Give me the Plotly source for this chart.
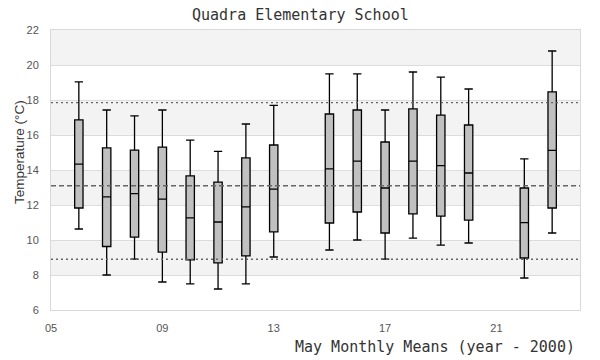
import plotly.graph_objects as go

# Years (year - 2000)
years = [6, 7, 8, 9, 10, 11, 12, 13, 15, 16, 17, 18, 19, 20, 22, 23]
upper_whisker = [19.03, 17.43, 17.09, 17.43, 15.71, 15.06, 16.63, 17.69, 19.49, 19.49, 17.43, 19.60, 19.31, 18.63, 14.63, 20.80]
q3_vals       = [16.86, 15.26, 15.14, 15.31, 13.66, 13.31, 14.69, 15.43, 17.20, 17.43, 15.60, 17.49, 17.14, 16.57, 12.97, 18.46]
medians       = [14.34, 12.46, 12.65, 12.34, 11.26, 11.03, 11.89, 12.91, 14.06, 14.51, 12.97, 14.51, 14.25, 13.83, 10.99, 15.12]
q1_vals       = [11.83,  9.63, 10.17,  9.31,  8.86,  8.69,  9.09, 10.46, 10.97, 11.60, 10.40, 11.49, 11.37, 11.14,  8.97, 11.83]
lower_whisker = [10.63,  8.00,  8.91,  7.60,  7.49,  7.20,  7.49,  9.03,  9.43, 10.00,  8.91, 10.11,  9.71,  9.83,  7.83, 10.40]

tick_vals = [5, 9, 13, 17, 21]
tick_text = ["05", "09", "13", "17", "21"]

ref_mean = 13.1
ref_upper = 17.85
ref_lower = 8.9

fig = go.Figure()
fig.add_trace(go.Box(
    x=years, q1=q1_vals, median=medians, q3=q3_vals,
    lowerfence=lower_whisker, upperfence=upper_whisker,
    fillcolor="#c0c0c0", line=dict(color="black", width=1.3),
    width=0.3, whiskerwidth=1, boxpoints=False, showlegend=False,
    hoverinfo="skip"))

shapes = []
# alternating bands
for lo in [8, 12, 16, 20]:
    shapes.append(dict(type="rect", xref="paper", yref="y", x0=0, x1=1, y0=lo, y1=lo + 2,
                       fillcolor="#f3f3f3", line=dict(width=0), layer="below"))
for val, dash in [(ref_upper, "2px,3px"), (ref_mean, "5px,3px"), (ref_lower, "2px,3px")]:
    shapes.append(dict(type="line", xref="paper", yref="y", x0=0, x1=1, y0=val, y1=val,
                       line=dict(color="#666666", width=1.3, dash=dash), layer="above"))

fig.update_layout(
    width=600, height=360,
    margin=dict(l=51, r=20, t=30, b=50),
    paper_bgcolor="white", plot_bgcolor="white",
    shapes=shapes,
    xaxis=dict(range=[5, 24], tickvals=tick_vals, ticktext=tick_text, showgrid=False,
               zeroline=False, showline=True, mirror=True, linecolor="#d9d9d9", linewidth=1,
               tickfont=dict(family="Liberation Sans", size=11, color="#555555"), ticks="",
               ticklabelstandoff=8),
    yaxis=dict(range=[6, 22], dtick=2, showgrid=True, gridcolor="#dcdcdc", gridwidth=1,
               zeroline=False, showline=True, mirror=True, linecolor="#d9d9d9", linewidth=1,
               tickfont=dict(family="Liberation Sans", size=11, color="#555555"), ticks="",
               ticklabelstandoff=9),
    annotations=[
        dict(text="Quadra Elementary School", xref="paper", yref="paper", x=(300 - 51) / 529, y=1,
             yshift=15, xanchor="center", yanchor="middle", showarrow=False,
             font=dict(family="DejaVu Sans Mono", size=15, color="#333333")),
        dict(text="May Monthly Means (year - 2000)", xref="paper", yref="paper", x=1, y=0,
             xanchor="right", yanchor="middle", yshift=-37, xshift=-3, showarrow=False,
             font=dict(family="DejaVu Sans Mono", size=15, color="#333333")),
        dict(text="Temperature (°C)", xref="paper", yref="paper", x=0, y=0.5,
             xshift=-32, yshift=18, textangle=-90, xanchor="center", yanchor="middle", showarrow=False,
             font=dict(family="Liberation Sans", size=13.5, color="#333333")),
    ],
)

fig.write_html("out.html", config={"displayModeBar": False},
               post_script="document.body.style.margin='0';")
